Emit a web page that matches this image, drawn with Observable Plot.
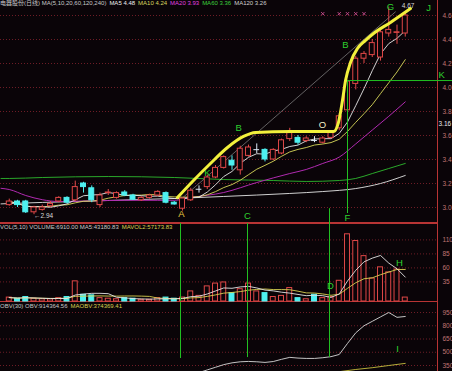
<!DOCTYPE html>
<html><head><meta charset="utf-8">
<script src="https://cdn.jsdelivr.net/npm/d3@7"></script>
<script src="https://cdn.jsdelivr.net/npm/@observablehq/plot@0.6"></script>
<style>
html,body{margin:0;padding:0;background:#0a0408;}
#wrap{position:relative;width:452px;height:371px;overflow:hidden;background:#0a0408;}
#wrap svg{position:absolute;left:0;overflow:hidden;background:transparent;}
.hdr{position:absolute;left:0;white-space:nowrap;font-family:"Liberation Sans","Noto Sans CJK SC",sans-serif;font-size:6px;line-height:7px;}
.hdr span{margin-right:3px;}
</style></head><body><div id="wrap"></div>
<script>
// ---- data ----
const idx = d3.range(49);
const open  = [3.02,3.05,3.05,2.96,2.98,3.01,3.05,3.08,3.06,3.20,3.16,3.02,3.12,3.08,3.125,3.10,3.06,3.08,3.10,3.12,3.04,2.99,3.06,3.15,3.17,3.25,3.33,3.39,3.31,3.43,3.48,3.48,3.40,3.45,3.57,3.58,3.555,3.56,3.54,3.58,3.66,3.81,4.03,4.24,4.27,4.25,4.45,4.455,4.45];
const close = [3.05,3.02,2.96,3.00,3.00,3.03,3.08,3.04,3.17,3.17,3.06,3.10,3.125,3.12,3.10,3.065,3.08,3.10,3.13,3.04,3.025,3.075,3.14,3.152,3.25,3.33,3.42,3.35,3.49,3.50,3.482,3.40,3.48,3.56,3.62,3.54,3.575,3.558,3.575,3.62,3.76,4.05,4.24,4.28,4.37,4.46,4.48,4.46,4.60];
const high  = [3.07,3.06,3.06,3.01,3.02,3.05,3.09,3.09,3.22,3.21,3.18,3.12,3.15,3.13,3.14,3.11,3.09,3.11,3.14,3.13,3.05,3.08,3.16,3.18,3.27,3.35,3.43,3.43,3.51,3.52,3.53,3.49,3.49,3.57,3.66,3.60,3.59,3.59,3.59,3.63,3.78,4.06,4.26,4.30,4.40,4.48,4.67,4.52,4.63];
const low   = [3.01,3.00,2.95,2.94,2.97,3.00,3.04,3.03,3.05,3.12,3.04,3.00,3.10,3.07,3.09,3.06,3.05,3.07,3.09,3.03,3.02,2.97,3.05,3.12,3.15,3.24,3.32,3.31,3.27,3.42,3.45,3.38,3.39,3.44,3.55,3.52,3.54,3.54,3.53,3.57,3.64,3.80,3.98,4.20,4.25,4.22,4.42,4.36,4.42];
const volume= [7,5,8,5,4,4,6,8,36,12,11,6,5,4,6,5,3,3,6,7,5,7,18,10,27,32,34,15,22,32,18,15,8,10,24,6,4,12,6,8,37,120,108,81,41,61,52,57,7];

const ma20Idx = [-1,0,2,4,6,10,14,18,20,22,26,30,34,36,38,40,42,44,46,48];
const ma20    = [3.16,3.15,3.10,3.065,3.05,3.055,3.06,3.06,3.06,3.083,3.125,3.208,3.283,3.317,3.367,3.42,3.53,3.645,3.76,3.88];
const ma60Idx = [-1,0,4,12,20,26,32,36,40,42,44,46,48];
const ma60    = [3.242,3.242,3.25,3.258,3.25,3.233,3.225,3.217,3.225,3.242,3.283,3.325,3.367];
const ma120Idx= [-1,0,8,16,20,26,34,38,42,45,48];
const ma120   = [3.03,3.033,3.05,3.067,3.075,3.092,3.117,3.133,3.158,3.2,3.267];

const trendIdx = [21,46.8];
const trendPrice = [3.08,4.63];

const pathIdx   = [20.39,22.33,24.39,26.45,28.39,29.85,34.09,39.3,39.9,40.39,40.76,41.36,42.21,43.18,44.15,46.21,48.64];
const pathPrice = [3.083,3.225,3.367,3.5,3.592,3.625,3.633,3.633,3.708,3.892,4.058,4.208,4.325,4.392,4.45,4.542,4.658];

const obvIdx = d3.range(23,49);
const obv    = [270,300,330,360,380,392,396,392,385,395,420,442,434,430,430,438,450,475,600,720,800,850,900,950,895,905];
const maobvIdx = [38,40,42,44,46,48];
const maobv    = [255,280,305,325,350,374];

const signalIdx = [38,40,41,42,43];

const priceTicks = [3.0,3.2,3.4,3.6,3.8,4.0,4.2,4.4,4.6];
const volTicks = [35,60,85,110];
const obvTicks = [350,500,650,800,950];

const priceHeader = [["电器股份(日线) MA(5,10,20,60,120,240)","#c8c8c8"],["MA5 4.48","#f0f0f0"],["MA10 4.24","#d8d860"],["MA20 3.93","#e040e0"],["MA60 3.36","#3cd03c"],["MA120 3.26","#d0d0d0"]];
const volHeader = [["VOL(5,10) VOLUME:6910.00 MA5:43180.83","#c8c8c8"],["MAVOL2:57173.83","#d8d050"]];
const obvHeader = [["OBV(30) OBV:914364.56","#c8c8c8"],["MAOBV:374369.41","#d8d050"]];

const priceLabels = [
  {t:"A",i:20.88,p:2.95,c:"#e8c840"},{t:"K",i:24.03,p:3.29,c:"#2ed02e"},{t:"B",i:27.8,p:3.667,c:"#2ed02e"},
  {t:"O",i:37.97,p:3.69,c:"#f0f0c8"},{t:"B",i:40.76,p:4.358,c:"#2ed02e"},{t:"G",i:46.2,p:4.672,c:"#2ed02e"},
  {t:"J",i:50.82,p:4.66,c:"#2ed02e"},{t:"K",i:52.4,p:4.108,c:"#2ed02e"},{t:"C",i:28.88,p:2.93,c:"#2ed02e"},
  {t:"F",i:41.0,p:2.912,c:"#2ed02e"}];
const volLabels = [{t:"D",i:38.94,v:28.6},{t:"H",i:47.3,v:69.6}];
const obvLabels = [{t:"I",i:47.06,v:542}];

const lineA = 20.76, lineC = 28.88, lineD = 38.82, lineF = 41.0;

// ---- styling ----
const BG="#0a0408", RED="#e04848", CYAN="#4ef0f0", DOJI="#dce8f6", GRID="#6e1c26", AXIS="#b83434", LABEL="#c07474", GREEN="#22c022";
const FONT = "Liberation Sans, DejaVu Sans, sans-serif";
const X = {domain:[0,48], range:[8.75,404.75], axis:null};

const candles = idx.map(i => ({i, o:open[i], c:close[i], h:high[i], l:low[i], v:volume[i],
  dir: close[i] > open[i] + 0.004 ? "up" : close[i] < open[i] - 0.004 ? "down" : "doji",
  volUp: close[i] >= open[i]}));
const col = d => d.dir === "up" ? RED : d.dir === "down" ? CYAN : DOJI;
const zip = (a, b) => a.map((x, k) => ({x, y: b[k]}));

const base = {width:452, marginLeft:0, marginRight:15, marginTop:0, color:{type:"identity"},
  style:{background:"transparent", fontFamily:FONT, fontSize:"7px", overflow:"hidden"}};
const axisOpts = {anchor:"right", tickSize:0, tickPadding:5, color:LABEL, fontSize:6.5, label:null};

const pricePlot = Plot.plot({...base, height:223, marginBottom:1, x:X,
  y:{domain:[3.0,4.6], range:[207,15], axis:null, label:null},
  marks:[
    Plot.gridY(priceTicks, {stroke:GRID, strokeOpacity:1, strokeDasharray:"1,2"}),
    Plot.axisY(priceTicks, {...axisOpts, tickFormat:d3.format(".1f")}),
    Plot.frame({anchor:"right", stroke:AXIS}),
    Plot.frame({anchor:"bottom", stroke:AXIS}),
    Plot.dot(signalIdx, {x:d=>d, y:4.615, symbol:"times", r:1.6, stroke:"#c04a8a", strokeWidth:1}),
    Plot.line(zip(ma120Idx, ma120), {x:"x", y:"y", stroke:"#cfcfcf", strokeWidth:1, curve:"monotone-x"}),
    Plot.line(zip(ma60Idx, ma60), {x:"x", y:"y", stroke:"#2aa82a", strokeWidth:1, curve:"monotone-x"}),
    Plot.line(zip(ma20Idx, ma20), {x:"x", y:"y", stroke:"#b02ab0", strokeWidth:1, curve:"monotone-x"}),
    Plot.lineY(candles, Plot.windowY({k:10, anchor:"end"}, {x:"i", y:"c", stroke:"#d8d85a", strokeWidth:0.9})),
    Plot.lineY(candles, Plot.windowY({k:5, anchor:"end"}, {x:"i", y:"c", stroke:"#e8e8e8", strokeWidth:0.9})),
    Plot.line(zip(trendIdx, trendPrice), {x:"x", y:"y", stroke:"#8a8a8a", strokeWidth:0.7}),
    Plot.ruleX(candles, {x:"i", y1:"l", y2:"h", stroke:col, strokeWidth:1}),
    Plot.rect(candles.filter(d => d.dir !== "doji"), {x1:d=>d.i-0.3, x2:d=>d.i+0.3, y1:"o", y2:"c",
      fill:d => d.dir === "up" ? BG : CYAN, stroke:col, strokeWidth:1}),
    Plot.ruleY(candles.filter(d => d.dir === "doji"), {x1:d=>d.i-0.35, x2:d=>d.i+0.35, y:"c", stroke:DOJI, strokeWidth:1}),
    Plot.ruleX([lineD], {y1:2.99, y2:2.86, stroke:GREEN}),
    Plot.ruleX([lineF], {y1:4.058, y2:2.95, stroke:GREEN}),
    Plot.ruleY([4.058], {x1:lineF, x2:54, stroke:GREEN}),
    Plot.line(zip(pathIdx, pathPrice), {x:"x", y:"y", stroke:"#f2f03c", strokeWidth:3, curve:"monotone-x"}),
    Plot.text([{i:46, p:4.67}], {x:"i", y:"p", text:()=>"4.67", dx:13, dy:-1, textAnchor:"start", fill:"#d8d8d8", fontSize:6.5}),
    Plot.text([{i:3, p:2.94}], {x:"i", y:"p", text:()=>"←2.94", dy:1, textAnchor:"start", fill:"#d8d8d8", fontSize:6.5}),
    Plot.text([{p:3.70}], {y:"p", frameAnchor:"right", text:()=>"3.16", dx:1, textAnchor:"start", fill:"#e8e8e8", fontSize:6.5}),
    Plot.text(priceLabels, {x:"i", y:"p", text:"t", fill:"c", fontSize:9.5, fontFamily:FONT})
  ]});

const volPlot = Plot.plot({...base, height:79, marginBottom:1, x:X,
  y:{domain:[0,110], range:[78,16.4], axis:null, label:null},
  marks:[
    Plot.gridY(volTicks, {stroke:GRID, strokeOpacity:1, strokeDasharray:"1,2"}),
    Plot.axisY(volTicks, axisOpts),
    Plot.frame({anchor:"right", stroke:AXIS}),
    Plot.frame({anchor:"bottom", stroke:AXIS}),
    Plot.frame({anchor:"top", stroke:AXIS}),
    Plot.rectY(candles, {x1:d=>d.i-0.3, x2:d=>d.i+0.3, y1:0, y2:"v",
      fill:d => d.volUp ? BG : CYAN, stroke:d => d.volUp ? RED : CYAN, strokeWidth:1}),
    Plot.lineY(candles, Plot.windowY({k:10, anchor:"end"}, {x:"i", y:"v", stroke:"#d8d050", strokeWidth:0.9})),
    Plot.lineY(candles, Plot.windowY({k:5, anchor:"end"}, {x:"i", y:"v", stroke:"#e4e4e4", strokeWidth:0.9})),
    Plot.ruleX([lineA, lineC, lineD], {stroke:GREEN}),
    Plot.text(volLabels, {x:"i", y:"v", text:"t", fill:"#2ed02e", fontSize:9.5, fontFamily:FONT})
  ]});

const obvPlot = Plot.plot({...base, height:69, marginBottom:0, x:X,
  y:{domain:[350,950], range:[63,10], axis:null, label:null},
  marks:[
    Plot.gridY(obvTicks, {stroke:GRID, strokeOpacity:1, strokeDasharray:"1,2"}),
    Plot.axisY(obvTicks, axisOpts),
    Plot.frame({anchor:"right", stroke:AXIS}),
    Plot.line(zip(maobvIdx, maobv), {x:"x", y:"y", stroke:"#c8c040", strokeWidth:0.9}),
    Plot.line(zip(obvIdx, obv), {x:"x", y:"y", stroke:"#d8d8d8", strokeWidth:0.9}),
    Plot.ruleX([{x:lineA, y:429},{x:lineC, y:440},{x:lineD, y:440}], {x:"x", y1:"y", y2:1200, stroke:GREEN}),
    Plot.text(obvLabels, {x:"i", y:"v", text:"t", fill:"#2ed02e", fontSize:9.5, fontFamily:FONT})
  ]});

const wrap = document.getElementById("wrap");
pricePlot.style.top = "0px"; volPlot.style.top = "223px"; obvPlot.style.top = "302px";
wrap.append(pricePlot, volPlot, obvPlot);
function hdr(top, items){
  const div = document.createElement("div");
  div.className = "hdr"; div.style.top = top + "px";
  items.forEach(([text, color]) => {
    const s = document.createElement("span");
    s.style.color = color; s.textContent = text; div.appendChild(s);
  });
  wrap.appendChild(div);
}
hdr(0, priceHeader); hdr(224, volHeader); hdr(303, obvHeader);
</script></body></html>
